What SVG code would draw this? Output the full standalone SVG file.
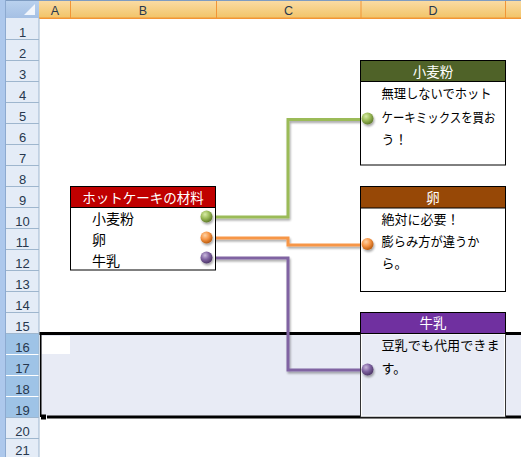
<svg xmlns="http://www.w3.org/2000/svg" width="521" height="457" viewBox="0 0 521 457">
<defs>
<linearGradient id="colhdr" x1="0" y1="0" x2="0" y2="1"><stop offset="0" stop-color="#FADBA3"/><stop offset="1" stop-color="#F2C468"/></linearGradient>
<linearGradient id="corner" x1="0" y1="0" x2="0" y2="1"><stop offset="0" stop-color="#B9D1EE"/><stop offset="1" stop-color="#A5C0E4"/></linearGradient>
<radialGradient id="gG" cx="0.38" cy="0.32" r="0.7"><stop offset="0" stop-color="#D7EBA6"/><stop offset="0.5" stop-color="#9BBB59"/><stop offset="1" stop-color="#5E7A2A"/></radialGradient>
<radialGradient id="gO" cx="0.38" cy="0.32" r="0.7"><stop offset="0" stop-color="#FCD2A6"/><stop offset="0.5" stop-color="#F79646"/><stop offset="1" stop-color="#B85A0E"/></radialGradient>
<radialGradient id="gP" cx="0.38" cy="0.32" r="0.7"><stop offset="0" stop-color="#C9B9DC"/><stop offset="0.5" stop-color="#8064A2"/><stop offset="1" stop-color="#4B3566"/></radialGradient>
<filter id="sh" x="-20%" y="-20%" width="140%" height="140%"><feGaussianBlur in="SourceAlpha" stdDeviation="1"/><feOffset dx="1" dy="1.5" result="b"/><feComponentTransfer><feFuncA type="linear" slope="0.35"/></feComponentTransfer><feMerge><feMergeNode/><feMergeNode in="SourceGraphic"/></feMerge></filter>
</defs>
<style>
.hdr{font-family:"Liberation Sans",Arial,sans-serif;font-size:12.5px;fill:#27384E;text-anchor:middle}
.rn{font-family:"Liberation Sans",Arial,sans-serif;font-size:13px;fill:#27384E;text-anchor:middle}
.jp{font-family:"Noto Sans CJK JP",sans-serif;font-size:13px;fill:#000}
.jt{font-family:"Noto Sans CJK JP",sans-serif;font-size:13.5px;fill:#FFF;text-anchor:middle}
.jl{font-family:"Noto Sans CJK JP",sans-serif;font-size:14px;fill:#000}
.box{fill:#FFF;stroke:#000;stroke-width:1}
.conn{fill:none;stroke-width:3;stroke-linejoin:miter}
.rl{stroke:#9EB6CE;stroke-width:1}
</style>
<rect width="521" height="457" fill="#FFF"/>
<!-- left strip -->
<rect x="0" y="0" width="6" height="457" fill="#ADC8EC"/>
<line x1="5.5" y1="0" x2="5.5" y2="457" stroke="#8DAAD0"/>
<!-- column headers -->
<rect x="6" y="0" width="515" height="1" fill="#7E9CC2"/>
<rect x="39" y="1" width="482" height="17" fill="url(#colhdr)"/>
<rect x="6" y="1" width="33" height="17" fill="url(#corner)"/>
<polygon points="35,4 35,15 24,15" fill="#F2F6FC"/>
<g stroke="#F29536" stroke-width="1">
<line x1="70.5" y1="1" x2="70.5" y2="18"/>
<line x1="216.5" y1="1" x2="216.5" y2="18"/>
<line x1="361" y1="1" x2="361" y2="18"/>
<line x1="505.5" y1="1" x2="505.5" y2="18"/>
</g>
<rect x="39" y="17.5" width="482" height="1.5" fill="#F29536"/>
<text class="hdr" x="55" y="15">A</text>
<text class="hdr" x="143" y="15">B</text>
<text class="hdr" x="288.5" y="15">C</text>
<text class="hdr" x="433" y="15">D</text>
<!-- row headers -->
<rect x="6" y="18" width="33" height="439" fill="#E4ECF7"/>
<rect x="6" y="333" width="33" height="84" fill="#9EC3E6"/>
<g class="rl">
<line x1="6" y1="39.5" x2="39" y2="39.5"/><line x1="6" y1="60.5" x2="39" y2="60.5"/><line x1="6" y1="81.5" x2="39" y2="81.5"/><line x1="6" y1="102.5" x2="39" y2="102.5"/><line x1="6" y1="123.5" x2="39" y2="123.5"/><line x1="6" y1="144.5" x2="39" y2="144.5"/><line x1="6" y1="165.5" x2="39" y2="165.5"/><line x1="6" y1="186.5" x2="39" y2="186.5"/><line x1="6" y1="207.5" x2="39" y2="207.5"/><line x1="6" y1="228.5" x2="39" y2="228.5"/><line x1="6" y1="249.5" x2="39" y2="249.5"/><line x1="6" y1="270.5" x2="39" y2="270.5"/><line x1="6" y1="291.5" x2="39" y2="291.5"/><line x1="6" y1="312.5" x2="39" y2="312.5"/><line x1="6" y1="333.5" x2="39" y2="333.5"/><line x1="6" y1="417.5" x2="39" y2="417.5"/><line x1="6" y1="438.5" x2="39" y2="438.5"/>
</g>
<g stroke="#FFF" stroke-width="1">
<line x1="6" y1="354.5" x2="39" y2="354.5"/><line x1="6" y1="375.5" x2="39" y2="375.5"/><line x1="6" y1="396.5" x2="39" y2="396.5"/>
</g>
<line x1="39" y1="18" x2="39" y2="457" stroke="#9EB6CE"/>
<g class="rn">
<text x="22.5" y="36.5">1</text><text x="22.5" y="57.5">2</text><text x="22.5" y="78.5">3</text><text x="22.5" y="99.5">4</text><text x="22.5" y="120.5">5</text><text x="22.5" y="141.5">6</text><text x="22.5" y="162.5">7</text><text x="22.5" y="183.5">8</text><text x="22.5" y="204.5">9</text><text x="22.5" y="225.5">10</text><text x="22.5" y="246.5">11</text><text x="22.5" y="267.5">12</text><text x="22.5" y="288.5">13</text><text x="22.5" y="309.5">14</text><text x="22.5" y="330.5">15</text><text x="22.5" y="351.5">16</text><text x="22.5" y="372.5">17</text><text x="22.5" y="393.5">18</text><text x="22.5" y="414.5">19</text><text x="22.5" y="435.5">20</text><text x="22.5" y="455">21</text>
</g>
<!-- selection -->
<rect x="40" y="333" width="481" height="84" fill="#E8EBF5"/>
<rect x="42" y="336" width="28" height="18" fill="#FFF"/>
<rect x="39.5" y="332" width="481.5" height="3" fill="#000"/>
<rect x="47" y="415.5" width="474" height="3" fill="#000"/>
<rect x="40" y="333" width="1.5" height="84" fill="#000"/>
<rect x="41" y="414.5" width="5" height="5" fill="#000"/>
<!-- connectors -->
<g id="connectors" filter="url(#sh)">
<path class="conn" stroke="#9BBB59" d="M207,217 H288 V119.5 H367"/>
<path class="conn" stroke="#F79646" d="M207,238 H288 V245 H367"/>
<path class="conn" stroke="#8064A2" d="M207,258 H288 V370 H367"/>
</g>
<!-- left node -->
<g id="node-ingredients">
<rect class="box" x="70.5" y="186.5" width="145" height="83.5"/>
<rect x="70.5" y="186.5" width="145" height="21" fill="#C00000" stroke="#000"/>
<text class="jt" x="143" y="202.5" font-size="13px">ホットケーキの材料</text>
<text class="jl" x="92" y="224">小麦粉</text>
<text class="jl" x="92" y="245">卵</text>
<text class="jl" x="92" y="265.5">牛乳</text>
</g>
<!-- right node 1 -->
<g id="node-flour">
<rect class="box" x="360.5" y="60.5" width="145" height="104.5"/>
<rect x="360.5" y="60.5" width="145" height="21" fill="#4F6228" stroke="#000"/>
<text class="jt" x="433" y="77">小麦粉</text>
<text class="jp" x="381.5" y="97.5" textLength="110" lengthAdjust="spacingAndGlyphs">無理しないでホット</text>
<text class="jp" x="381.5" y="121.5" textLength="114" lengthAdjust="spacingAndGlyphs">ケーキミックスを買お</text>
<text class="jp" x="381.5" y="144">う！</text>
</g>
<!-- right node 2 -->
<g id="node-egg">
<rect class="box" x="360.5" y="186.5" width="145" height="105"/>
<rect x="360.5" y="186.5" width="145" height="21.5" fill="#974806" stroke="#000"/>
<text class="jt" x="433" y="202.5">卵</text>
<text class="jp" x="381.5" y="223.5">絶対に必要！</text>
<text class="jp" x="381.5" y="246" textLength="98" lengthAdjust="spacingAndGlyphs">膨らみ方が違うか</text>
<text class="jp" x="381.5" y="268">ら。</text>
</g>
<!-- right node 3 -->
<g id="node-milk">
<rect x="360.5" y="312.5" width="145" height="104.5" fill="#E8EBF5" stroke="#333" stroke-width="1"/>
<rect x="361.5" y="334" width="143" height="82" fill="none" stroke="#FFF" stroke-width="1"/>
<rect x="360.5" y="312.5" width="145" height="21" fill="#7030A0" stroke="#000"/>
<text class="jt" x="433" y="328">牛乳</text>
<text class="jp" x="381.5" y="350" textLength="118" lengthAdjust="spacingAndGlyphs">豆乳でも代用できま</text>
<text class="jp" x="381.5" y="373">す。</text>
</g>
<!-- dots -->
<g id="dots" filter="url(#sh)">
<circle cx="206.5" cy="216.5" r="6" fill="url(#gG)"/>
<circle cx="206.5" cy="237.5" r="6" fill="url(#gO)"/>
<circle cx="206.5" cy="257.5" r="6" fill="url(#gP)"/>
<circle cx="367.5" cy="118.5" r="6" fill="url(#gG)"/>
<circle cx="367.5" cy="244" r="6" fill="url(#gO)"/>
<circle cx="367.5" cy="369.5" r="6" fill="url(#gP)"/>
</g>
</svg>
